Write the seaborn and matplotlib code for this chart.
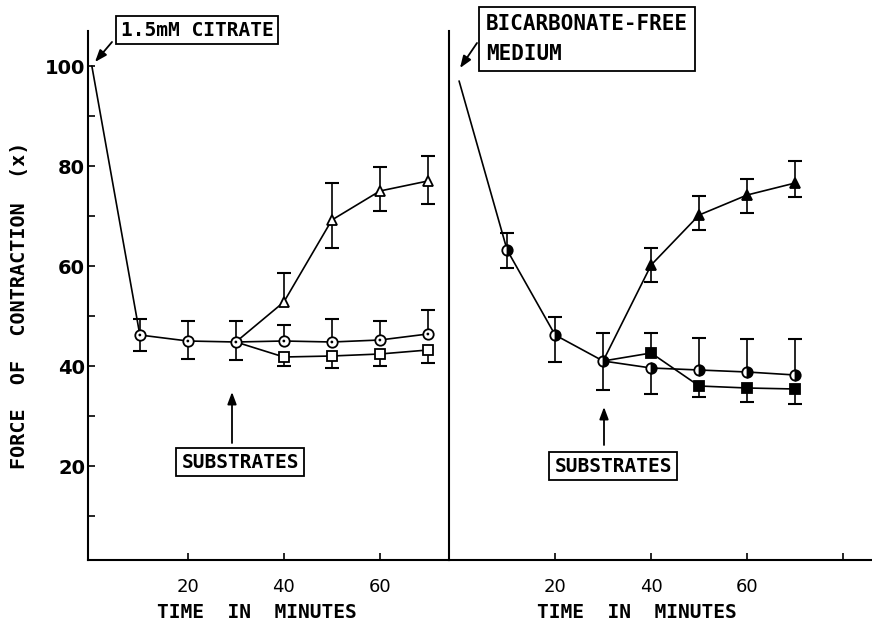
import numpy as np
import pandas as pd
import matplotlib
matplotlib.use("Agg")
import matplotlib.pyplot as plt
import seaborn as sns

# ---------------- data ----------------
time_base = [0, 10, 20, 30]
time_branch = [30, 40, 50, 60, 70]

# left panel: 1.5 mM citrate
left_base = [100, 46.2, 45.0, 44.8]
left_base_hi = [0, 3.2, 4.0, 4.2]
left_base_lo = [0, 3.2, 3.6, 3.6]
left_tri = [44.8, 52.8, 69.2, 75.0, 77.0]
left_tri_hi = [0, 5.8, 7.4, 4.8, 5.0]
left_tri_lo = [0, 0, 5.6, 4.0, 4.6]
left_circ = [44.8, 45.0, 44.8, 45.2, 46.4]
left_circ_hi = [0, 3.2, 4.6, 3.8, 4.8]
left_circ_lo = [0, 0, 0, 0, 0]
left_sq = [44.8, 41.8, 42.0, 42.4, 43.2]
left_sq_hi = [0, 0, 0, 0, 0]
left_sq_lo = [0, 1.8, 2.4, 2.4, 2.6]

# right panel: bicarbonate-free medium
right_base = [97, 63.2, 46.2, 41.0]
right_base_hi = [0, 3.4, 3.6, 5.6]
right_base_lo = [0, 3.6, 5.4, 5.8]
right_tri = [41.0, 60.2, 70.2, 74.2, 76.6]
right_tri_hi = [0, 3.4, 3.8, 3.2, 4.4]
right_tri_lo = [0, 3.4, 3.0, 3.6, 2.8]
right_circ = [41.0, 39.6, 39.2, 38.8, 38.2]
right_circ_hi = [0, 0, 6.4, 6.6, 7.2]
right_circ_lo = [0, 5.2, 0, 0, 0]
right_sq = [41.0, 42.6, 36.0, 35.6, 35.4]
right_sq_hi = [0, 4.0, 0, 0, 0]
right_sq_lo = [0, 0, 2.2, 2.8, 3.0]

y_major = [20, 40, 60, 80, 100]
y_minor = [10, 30, 50, 70, 90]
x_ticks_left = [20, 40, 60]
x_ticks_right = [20, 40, 60, 80]
x_labels_right = ["20", "40", "60", ""]

# ---------------- style ----------------
sns.set_style("white")
plt.rcParams["font.family"] = ["DejaVu Sans Mono", "DejaVu Sans"]
for k in ("text.color", "axes.labelcolor", "xtick.color", "ytick.color", "axes.edgecolor"):
    plt.rcParams[k] = "black"

W, H = 872, 631
fig = plt.figure(figsize=(W / 100, H / 100), dpi=100)

def fx(px):
    return px / W

def fy(py):
    return 1 - py / H

ax_bottom = fy(560)
ax_height = fy(31) - fy(560)
axL = fig.add_axes([fx(88), ax_bottom, fx(449) - fx(88), ax_height])
axR = fig.add_axes([fx(449), ax_bottom, fx(872) - fx(449), ax_height])

LW = 1.2
MS = 7.5
FS = 14


def errbars(ax, x, y, hi, lo):
    x = np.asarray(x, float)
    y = np.asarray(y, float)
    hi = np.asarray(hi, float)
    lo = np.asarray(lo, float)
    m = hi > 0
    ax.vlines(x[m], y[m], y[m] + hi[m], color="k", lw=LW, zorder=2)
    ax.plot(x[m], y[m] + hi[m], ls="none", marker="_", ms=10, mew=1.5, color="k", zorder=2)
    m = lo > 0
    ax.vlines(x[m], y[m] - lo[m], y[m], color="k", lw=LW, zorder=2)
    ax.plot(x[m], y[m] - lo[m], ls="none", marker="_", ms=10, mew=1.5, color="k", zorder=2)


def series(ax, x, y, hi, lo, marker, mfc="white", fillstyle="full", markevery=None, dot=False):
    df = pd.DataFrame({"t": x, "v": y})
    kw = dict(marker=marker, markersize=MS, markerfacecolor=mfc, markeredgecolor="k",
              markeredgewidth=1.3, fillstyle=fillstyle)
    if fillstyle != "full":
        kw["markerfacecoloralt"] = "white"
    if markevery is not None:
        kw["markevery"] = markevery
    sns.lineplot(data=df, x="t", y="v", ax=ax, color="k", lw=LW, sort=False,
                 estimator=None, zorder=3, **kw)
    errbars(ax, x, y, hi, lo)
    if dot:
        sel = df.iloc[markevery] if markevery is not None else df
        sns.scatterplot(data=sel, x="t", y="v", ax=ax, color="k", s=4, zorder=5,
                        edgecolor="none", legend=False)


# left panel
series(axL, time_branch, left_tri, left_tri_hi, left_tri_lo, "^", markevery=[1, 2, 3, 4])
series(axL, time_branch, left_sq, left_sq_hi, left_sq_lo, "s", markevery=[1, 2, 3, 4])
series(axL, time_branch, left_circ, left_circ_hi, left_circ_lo, "o", markevery=[1, 2, 3, 4], dot=True)
series(axL, time_base, left_base, left_base_hi, left_base_lo, "o", markevery=[1, 2, 3], dot=True)

# right panel
series(axR, time_branch, right_tri, right_tri_hi, right_tri_lo, "^", mfc="k", markevery=[1, 2, 3, 4])
series(axR, time_branch, right_sq, right_sq_hi, right_sq_lo, "s", mfc="k", markevery=[1, 2, 3, 4])
series(axR, time_branch, right_circ, right_circ_hi, right_circ_lo, "o", mfc="k",
       fillstyle="right", markevery=[1, 2, 3, 4])
series(axR, time_base, right_base, right_base_hi, right_base_lo, "o", mfc="k",
       fillstyle="right", markevery=[1, 2, 3])

for ax in (axL, axR):
    ax.set_ylim(1.2, 107)
    ax.set_xlabel("")
    ax.set_ylabel("")
    for s in ("top", "right"):
        ax.spines[s].set_visible(False)
    for s in ("left", "bottom"):
        ax.spines[s].set_color("k")
        ax.spines[s].set_linewidth(1.5)
    ax.patch.set_alpha(0)

axL.set_xlim(-0.8, 74.4)
axR.set_xlim(-2.1, 86)

axL.set_yticks(y_major)
axL.set_yticks(y_minor, minor=True)
axL.set_yticklabels([str(v) for v in y_major], fontsize=FS, fontweight="bold", family="DejaVu Sans")
axL.set_xticks(x_ticks_left)
axL.set_xticklabels([str(v) for v in x_ticks_left], fontsize=FS - 1, family="DejaVu Sans")
axL.tick_params(axis="both", which="both", direction="in", length=5, width=1.2, color="k",
                labelcolor="k", bottom=True, left=True)
axL.tick_params(axis="x", pad=13)
axL.tick_params(axis="y", pad=2)

axR.set_yticks([])
axR.set_xticks(x_ticks_right)
axR.set_xticklabels(x_labels_right, fontsize=FS - 1, family="DejaVu Sans")
axR.tick_params(axis="x", direction="in", length=5, width=1.2, color="k", labelcolor="k",
                pad=13, bottom=True)

# axis titles
fig.text(fx(20), fy(305), "FORCE  OF  CONTRACTION  (x)", rotation=90, ha="center", va="center",
         fontsize=FS + 0.5, fontweight="bold")
fig.text(fx(257), fy(612), "TIME  IN  MINUTES", ha="center", va="center", fontsize=FS, fontweight="bold")
fig.text(fx(637), fy(612), "TIME  IN  MINUTES", ha="center", va="center", fontsize=FS, fontweight="bold")

box = dict(boxstyle="square,pad=0.25", fc="white", ec="k", lw=1.3)
arrow = dict(arrowstyle="-|>,head_length=0.8,head_width=0.3", color="k", lw=1.3,
             shrinkA=0, shrinkB=0, mutation_scale=9)

fig.text(fx(197), fy(30), "1.5mM CITRATE", ha="center", va="center", fontsize=FS,
         fontweight="bold", bbox=box)
fig.text(fx(486), fy(39), "BICARBONATE-FREE\nMEDIUM", ha="left", va="center", fontsize=FS + 1,
         fontweight="bold", linespacing=1.65,
         bbox=dict(boxstyle="square,pad=0.32", fc="white", ec="k", lw=1.3))
fig.text(fx(240), fy(462), "SUBSTRATES", ha="center", va="center", fontsize=FS,
         fontweight="bold", bbox=box)
fig.text(fx(613), fy(466), "SUBSTRATES", ha="center", va="center", fontsize=FS,
         fontweight="bold", bbox=box)

for (x0, y0, x1, y1) in [(112, 42, 95, 62), (477, 43, 460, 68),
                         (232, 443, 232, 392), (604, 445, 604, 407)]:
    fig.add_artist(matplotlib.patches.FancyArrowPatch(
        (fx(x0), fy(y0)), (fx(x1), fy(y1)), transform=fig.transFigure, **arrow))

fig.savefig("out.png", dpi=100, facecolor="white")
